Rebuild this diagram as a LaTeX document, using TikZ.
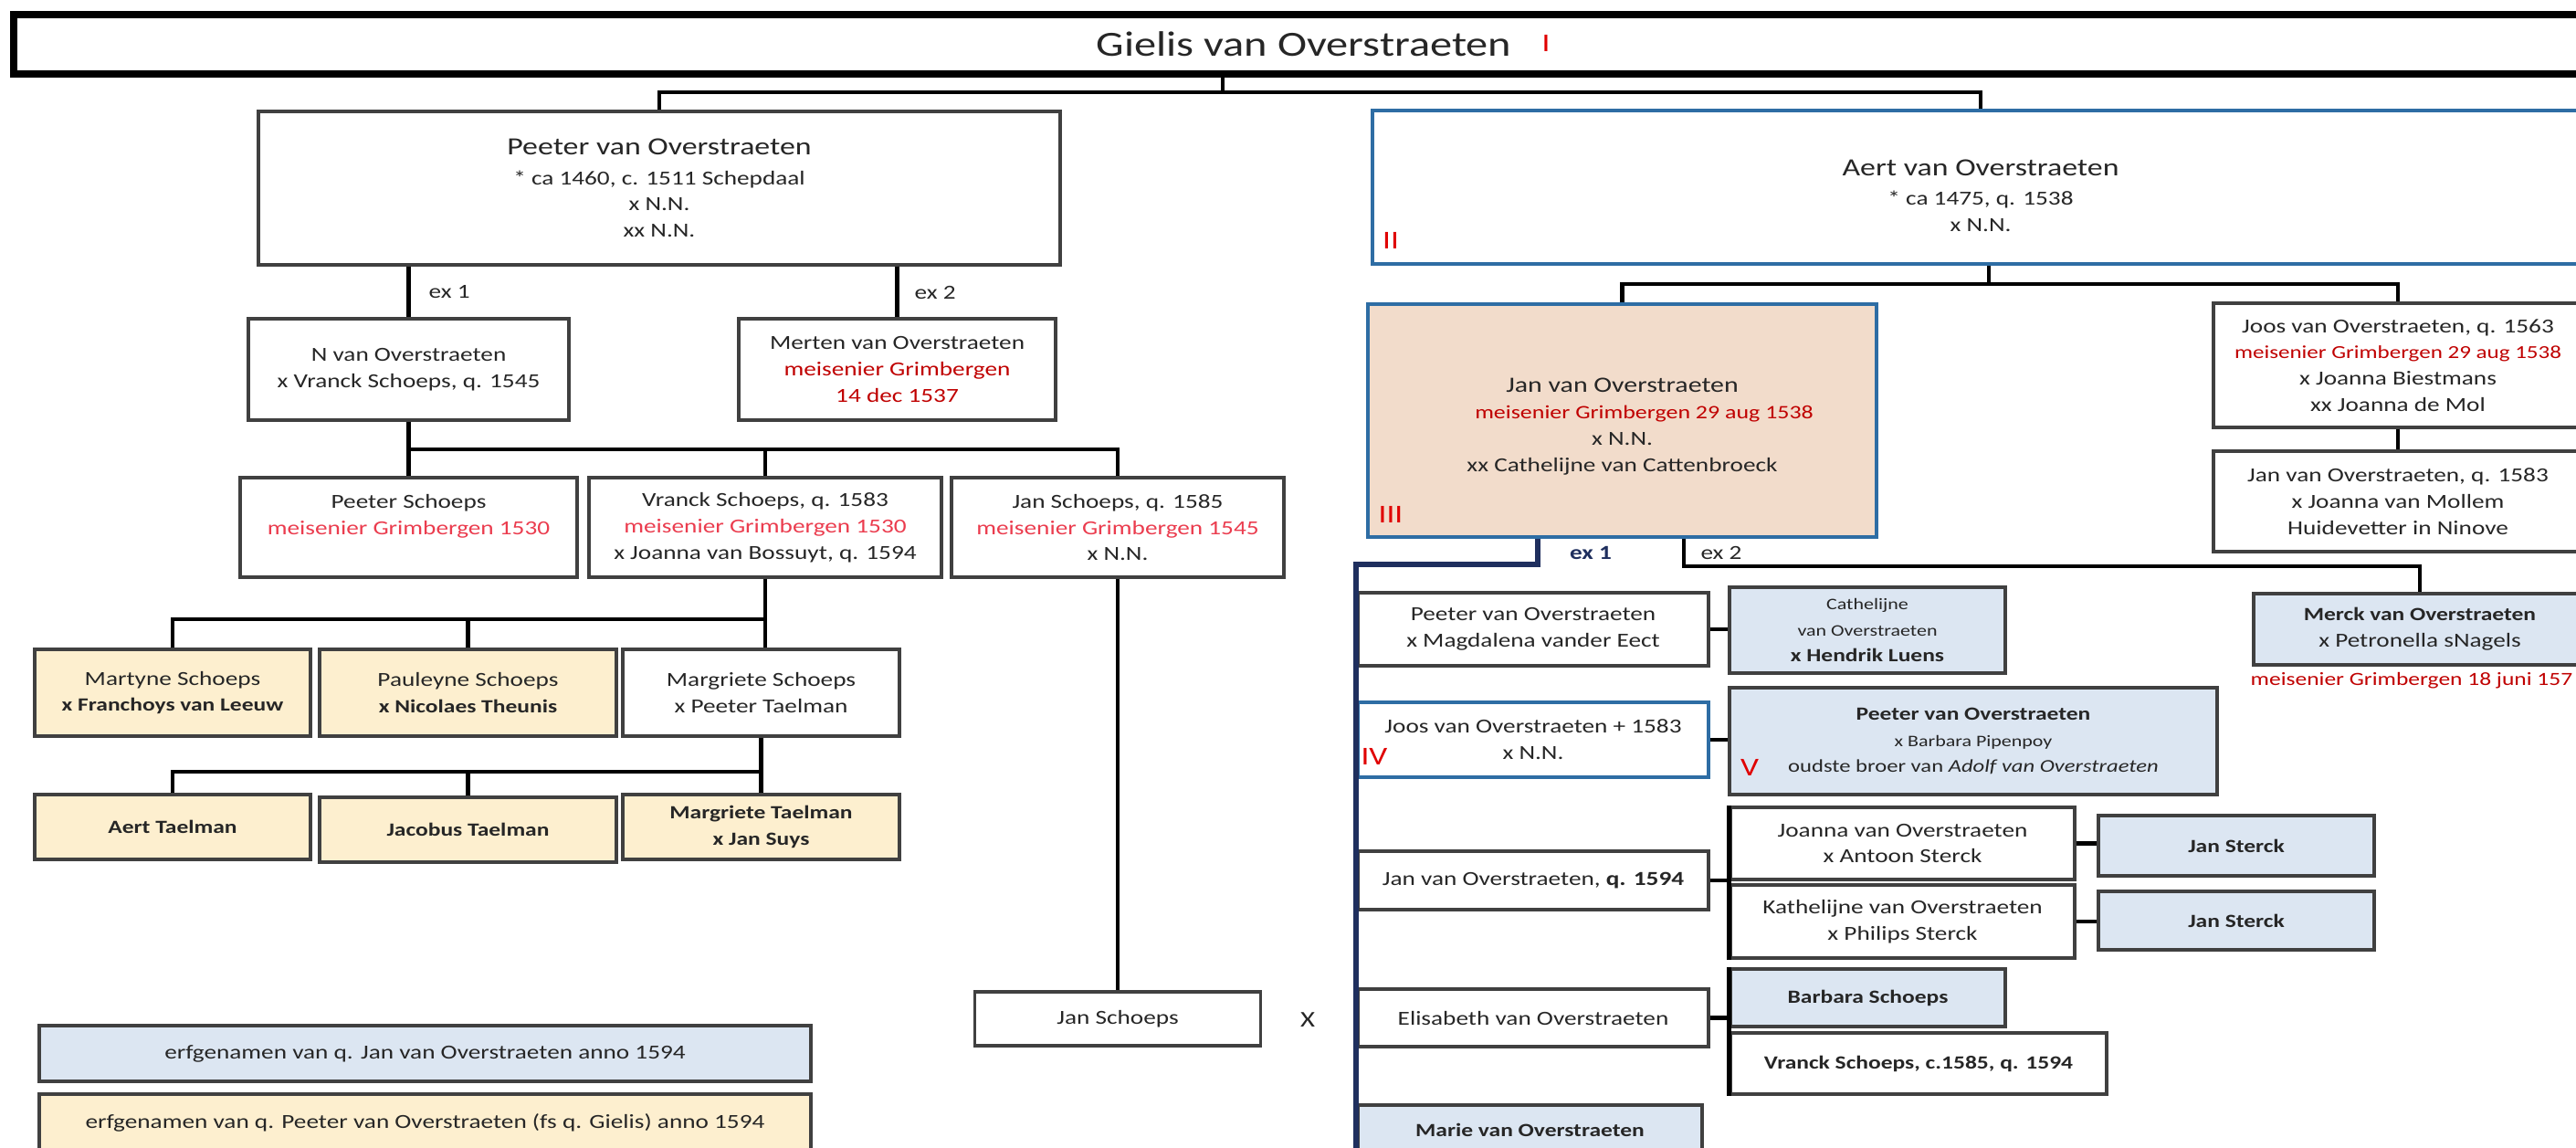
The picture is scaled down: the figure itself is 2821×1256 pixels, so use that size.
\documentclass[tikz,border=0pt]{standalone}
\usepackage{fontspec}
\setmainfont{Carlito}[FakeStretch=1.25]
\usetikzlibrary{calc}

\definecolor{boxgray}{HTML}{404040}
\definecolor{txtgray}{HTML}{262626}
\definecolor{outblue}{HTML}{2E6DA4}
\definecolor{navy}{HTML}{1F2F5E}
\definecolor{darkred}{HTML}{C00000}
\definecolor{brightred}{HTML}{EB3C4E}
\definecolor{romanred}{HTML}{E00000}
\definecolor{salmon}{HTML}{F2DCCB}
\definecolor{creamfill}{HTML}{FDEFCF}
\definecolor{skyfill}{HTML}{DCE6F2}

\newcommand{\pbig}{\fontsize{7.7}{9.5}\selectfont}
\newcommand{\psmall}{\fontsize{5}{7}\selectfont}
\newcommand{\pbold}{\fontsize{5.8}{8.2}\selectfont\bfseries}

\begin{document}
\begin{tikzpicture}[x=0.01cm,y=-0.01cm,
    box/.style={draw=boxgray,line width=0.9pt,fill=white,inner sep=0pt,align=center,text=txtgray,font=\fontsize{6.2}{8.2}\selectfont},
    wh/.style 2 args={minimum width=#1*0.01cm,minimum height=#2*0.01cm},
    bluebox/.style={box,draw=outblue,line width=1.1pt},
    creambox/.style={box,fill=creamfill},
    skybox/.style={box,fill=skyfill},
    conn/.style={line width=1.4pt,draw=black},
    navyline/.style={line width=1.7pt,draw=navy},
    edgeline/.style={line width=1.6pt,draw=black},
    exlabel/.style={font=\fontsize{6.2}{7}\selectfont,text=txtgray,inner sep=0pt},
    roman/.style={text=romanred,font=\fontsize{8}{8}\selectfont,inner sep=0pt}]
  \useasboundingbox (0,0) rectangle (2821,1256);
  \clip (0,0) rectangle (2821,1256);

  % generation I
  \node[box,wh={2826}{65},draw=black,line width=2.4pt,font=\fontsize{11}{13}\selectfont] (gielis) at (1428,48.5) {Gielis van Overstraeten};
  \node[roman] (r1) at (1693,47) {I};

  % generation II
  \node[box,wh={878}{168}] (peeter) at (722,206) {{\pbig Peeter van Overstraeten}\\[1pt]* ca 1460, c. 1511 Schepdaal\\x N.N.\\xx N.N.};
  \node[bluebox,wh={1332}{168}] (aert) at (2169,205) {~\\[2pt]{\pbig Aert van Overstraeten}\\[1pt]* ca 1475, q. 1538\\x N.N.};
  \node[roman] (r2) at (1523,263) {II};

  % descendants of Peeter
  \node[box,wh={351}{111}] (nvo) at (447.5,404.5) {N van Overstraeten\\x Vranck Schoeps, q. 1545};
  \node[box,wh={347}{111}] (merten) at (982.5,404.5) {Merten van Overstraeten\\\textcolor{darkred}{meisenier Grimbergen}\\\textcolor{darkred}{14 dec 1537}};
  \node[exlabel,anchor=west] (ex1a) at (469,320) {ex 1};
  \node[exlabel,anchor=west] (ex2a) at (1001,320) {ex 2};

  \node[box,wh={369}{109}] (pschoeps) at (447.5,577.5) {Peeter Schoeps\\\textcolor{brightred}{meisenier Grimbergen 1530}\\~};
  \node[box,wh={386}{109}] (vranck) at (838,577.5) {Vranck Schoeps, q. 1583\\\textcolor{brightred}{meisenier Grimbergen 1530}\\x Joanna van Bossuyt, q. 1594};
  \node[box,wh={364}{109}] (jschoepsq) at (1224,577.5) {Jan Schoeps, q. 1585\\\textcolor{brightred}{meisenier Grimbergen 1545}\\x N.N.};

  \node[creambox,wh={302}{95}] (martyne) at (189,758.5) {Martyne Schoeps\\{\pbold x Franchoys van Leeuw}};
  \node[creambox,wh={325}{95}] (pauleyne) at (512.5,758.5) {Pauleyne Schoeps\\{\pbold x Nicolaes Theunis}};
  \node[box,wh={303}{95}] (margriete) at (833.5,758.5) {Margriete Schoeps\\x Peeter Taelman};

  \node[creambox,wh={302}{71}] (aertt) at (189,905.5) {\pbold Aert Taelman};
  \node[creambox,wh={325}{71}] (jacobus) at (512.5,908.5) {\pbold Jacobus Taelman};
  \node[creambox,wh={303}{71}] (margrietet) at (833.5,905.5) {{\pbold Margriete Taelman}\\{\pbold x Jan Suys}};

  \node[box,wh={313}{59}] (jschoeps) at (1224,1115.5) {Jan Schoeps};
  \node[exlabel,font=\fontsize{7}{8}\selectfont] (xmark) at (1432,1117) {X};

  % legend
  \node[skybox,wh={845}{61}] (legblue) at (465.5,1153.5) {erfgenamen van q. Jan van Overstraeten anno 1594};
  \node[creambox,wh={845}{62}] (legcream) at (465.5,1229) {erfgenamen van q. Peeter van Overstraeten (fs q. Gielis) anno 1594};

  % descendants of Aert
  \node[bluebox,fill=salmon,wh={557}{255}] (janvo) at (1776.5,460.5) {~\\{\fontsize{6.8}{8.2}\selectfont Jan van Overstraeten}\\\hspace*{0.48cm}{\fontsize{5.9}{8.2}\selectfont\color{darkred}meisenier Grimbergen 29 aug 1538}\\x N.N.\\xx Cathelijne van Cattenbroeck};
  \node[roman] (r3) at (1523,563) {III};
  \node[box,wh={404}{136}] (joos) at (2626,400) {Joos van Overstraeten, q. 1563\\{\fontsize{5.7}{8.2}\selectfont\color{darkred}meisenier Grimbergen 29 aug 1538}\\x Joanna Biestmans\\xx Joanna de Mol};
  \node[box,wh={404}{110}] (janq83) at (2626,549) {Jan van Overstraeten, q. 1583\\x Joanna van Mollem\\Huidevetter in Ninove};
  \node[skybox,wh={364}{78}] (merck) at (2650,689) {{\pbold Merck van Overstraeten}\\x Petronella sNagels};
  \node[anchor=west,inner sep=0pt,text=darkred,font=\fontsize{5.8}{8}\selectfont] (merckdate) at (2464,745) {meisenier Grimbergen 18 juni 157};
  \node[exlabel,text=navy,font=\fontsize{6.2}{7}\selectfont\bfseries] (ex1b) at (1742,605) {ex 1};
  \node[exlabel] (ex2b) at (1885,605) {ex 2};

  % children of Jan, ex 1
  \node[box,wh={384}{80}] (lpeeter) at (1679,689) {Peeter van Overstraeten\\x Magdalena vander Eect};
  \node[skybox,wh={302}{94}] (cathelijne) at (2045,690) {{\psmall Cathelijne}\\{\psmall van Overstraeten}\\{\pbold x Hendrik Luens}};
  \node[bluebox,wh={384}{82}] (joosp) at (1679,810) {Joos van Overstraeten + 1583\\x N.N.};
  \node[roman] (r4) at (1505,828) {IV};
  \node[skybox,wh={534}{117}] (peeterv) at (2161,811.5) {{\pbold Peeter van Overstraeten}\\{\psmall x Barbara Pipenpoy}\\{\fontsize{5.6}{8}\selectfont oudste broer van \textit{Adolf van Overstraeten}}};
  \node[roman] (r5) at (1916,840) {V};
  \node[box,wh={384}{64}] (janq94) at (1679,964) {Jan van Overstraeten, \textbf{q. 1594}};
  \node[box,wh={377}{79}] (joanna) at (2083.5,923.5) {Joanna van Overstraeten\\x Antoon Sterck};
  \node[box,wh={377}{80}] (kathelijne) at (2083.5,1009) {Kathelijne van Overstraeten\\x Philips Sterck};
  \node[skybox,wh={302}{66}] (sterck1) at (2449,926) {\pbold Jan Sterck};
  \node[skybox,wh={302}{64}] (sterck2) at (2449,1008) {\pbold Jan Sterck};
  \node[box,wh={384}{63}] (elisabeth) at (1679,1114.5) {Elisabeth van Overstraeten};
  \node[skybox,wh={301}{63}] (barbara) at (2045.5,1092.5) {\pbold Barbara Schoeps};
  \node[box,wh={412}{67}] (vranckc) at (2101,1164.5) {\pbold Vranck Schoeps, c.1585, q. 1594};
  \node[skybox,wh={377}{54}] (marie) at (1675.5,1237) {\pbold Marie van Overstraeten};

  % connectors, left tree
  \coordinate (topbar) at (1339,101);
  \draw[conn] (gielis.south -| topbar) -- (topbar);
  \draw[conn] (peeter.north) |- (topbar) -| (aert.north);
  \draw[conn] (peeter.south -| nvo.north) -- (nvo.north);
  \draw[conn] (peeter.south -| merten.north) -- (merten.north);

  \coordinate (nbar) at (447.5,492);
  \draw[conn] (nvo.south) -- (pschoeps.north);
  \draw[conn] (nbar) -| (vranck.north);
  \draw[conn] (nbar) -| (jschoepsq.north);

  \coordinate (vbar) at (838,678);
  \draw[conn] (vranck.south) -- (vranck.south |- margriete.north);
  \draw[conn] (martyne.north) |- (vbar);
  \draw[conn] (pauleyne.north) -- (pauleyne.north |- vbar);

  \coordinate (mbar) at (833.5,845);
  \draw[conn] (margriete.south) -- (margrietet.north);
  \draw[conn] (aertt.north) |- (mbar);
  \draw[conn] (jacobus.north) -- (jacobus.north |- mbar);

  \draw[conn] (jschoepsq.south) -- (jschoeps.north);

  % connectors, right tree
  \coordinate (abar) at (2178,311);
  \draw[conn] (aert.south -| abar) -- (abar);
  \draw[conn] (janvo.north) |- (abar) -| (joos.north);
  \draw[conn] (joos.south) -- (janq83.north);

  \coordinate (ex1pt) at (1684,618);
  \coordinate (spine) at (1485,1270);
  \draw[navyline] (janvo.south -| ex1pt) -- (ex1pt) -- (ex1pt -| spine) -- (spine);
  \coordinate (ex2pt) at (1844,620);
  \draw[conn] (janvo.south -| ex2pt) -- (ex2pt) -| (merck.north);

  \draw[conn] (lpeeter.east) -- (lpeeter.east -| cathelijne.west);
  \draw[conn] (joosp.east) -- (joosp.east -| peeterv.west);
  \draw[conn] (janq94.east) -- (janq94.east -| joanna.west);
  \draw[edgeline] (joanna.north west) -- (kathelijne.south west);
  \draw[conn] (joanna.east) -- (joanna.east -| sterck1.west);
  \draw[conn] (kathelijne.east) -- (kathelijne.east -| sterck2.west);
  \draw[conn] (elisabeth.east) -- (elisabeth.east -| barbara.west);
  \draw[edgeline] (barbara.north west) -- (vranckc.south west);
\end{tikzpicture}
\end{document}
